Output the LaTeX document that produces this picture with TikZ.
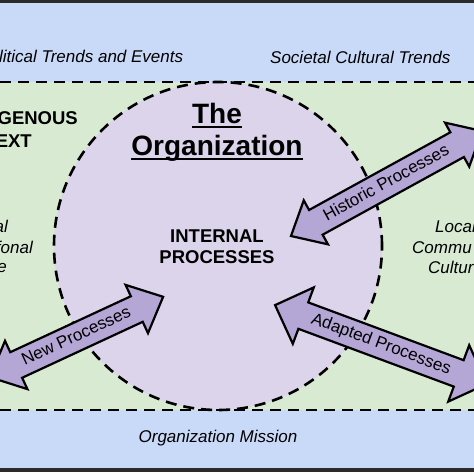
\documentclass[tikz,border=0pt]{standalone}
\usepackage{fontspec}
\setmainfont{Liberation Sans}
\usetikzlibrary{shapes.arrows}
\definecolor{bandblue}{HTML}{C9DAF8}
\definecolor{ctxgreen}{HTML}{D9EAD3}
\definecolor{orgpurple}{HTML}{DCD4EA}
\definecolor{arrowpurple}{HTML}{B4A7D6}
\definecolor{inkgray}{HTML}{2B2B2B}

\begin{document}
\begin{tikzpicture}[
			x=1pt, y=-1pt,
			boundary/.style={dash pattern=on 11pt off 7pt, line width=2.6pt},
			trend/.style={font=\fontsize{17}{20}\selectfont\itshape, inner sep=0pt},
			heading/.style={font=\fontsize{18.5}{22}\selectfont\bfseries, inner sep=0pt},
			titletext/.style={font=\fontsize{28}{32}\selectfont\bfseries, inner sep=0pt, anchor=base},
			process/.style={shape=double arrow, draw, line width=2.2pt, fill=arrowpurple, font=\fontsize{17}{20}\selectfont, text height=12.5pt, text depth=3.5pt, inner ysep=5pt, inner xsep=2pt},
		]
			\useasboundingbox (0,0) rectangle (474,474);
			\clip (0,0) rectangle (474,474);
			\fill[white] (0,0) rectangle (474,474);
			\fill[bandblue] (0,3) rectangle (474,82);
			\fill[ctxgreen] (0,82) rectangle (474,410);
			\fill[bandblue] (0,410) rectangle (474,468);
			\draw[line width=3pt, inkgray] (0,1.5) -- (474,1.5);
			\draw[line width=4pt, inkgray] (0,469.5) -- (474,469.5);

			\draw[boundary, fill=orgpurple] (218,246) circle[radius=164pt];
			\draw[boundary] (0,82) -- (474,82);
			\draw[boundary] (0,410) -- (474,410);

			\node[trend, anchor=base west] (political) at (-1,62) {litical Trends and Events};
			\node[trend, anchor=base west] (societal) at (270,63) {Societal Cultural Trends};
			\node[trend, anchor=base] (mission) at (218,442) {Organization Mission};

			\node[heading, anchor=base east] (indigenous) at (78,124) {GENOUS};
			\node[heading, anchor=base east] (context) at (32,147) {EXT};
			\node[trend, anchor=base east] (profa) at (8,232) {al};
			\node[trend, anchor=base east] (profb) at (33,253) {fonal};
			\node[trend, anchor=base east] (profc) at (7,272) {e};
			\node[trend, anchor=base west] (locala) at (435,232) {Local};
			\node[trend, anchor=base west] (localb) at (412,253) {Commu};
			\node[trend, anchor=base west] (localc) at (428,273) {Cultur};

			\node[titletext] (the) at (217,123) {The};
			\node[titletext] (organization) at (217,155) {Organization};
			\draw[line width=2pt] ([yshift=-4pt]the.base west) -- ([yshift=-4pt]the.base east);
			\draw[line width=2pt] ([yshift=-4pt]organization.base west) -- ([yshift=-4pt]organization.base east);
			\node[heading, anchor=base] (internal) at (217,242) {INTERNAL};
			\node[heading, anchor=base] (processes) at (217,263) {PROCESSES};

			\node[process, rotate=28.8, minimum height=218pt, double arrow head extend=11pt, double arrow tip angle=83] (historic) at (386.5,183.5) {Historic Processes};
			\node[process, rotate=24.9, minimum height=191pt, double arrow head extend=12.5pt, double arrow tip angle=85] (new) at (76.5,337) {New Processes};
			\node[process, rotate=-20.4, minimum height=226pt, double arrow head extend=16pt, double arrow tip angle=90] (adapted) at (381,344.5) {Adapted Processes};
		\end{tikzpicture}
\end{document}
